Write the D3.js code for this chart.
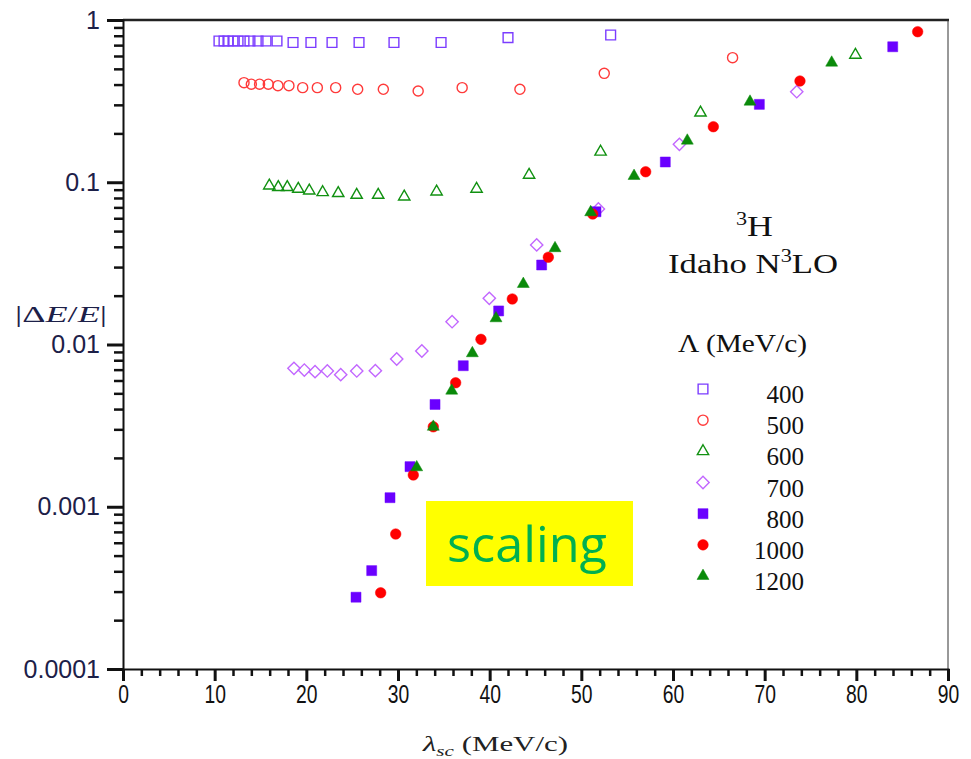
<!DOCTYPE html>
<html>
<head>
<meta charset="utf-8">
<script src="https://cdn.jsdelivr.net/npm/d3@7"></script>
<style>
  html, body { margin: 0; padding: 0; background: #fff; }
  svg { display: block; }
</style>
</head>
<body>
<svg id="chart" width="971" height="759"></svg>
<script>
// ---------------- data ----------------
const seriesNames = ["400", "500", "600", "700", "800", "1000", "1200"];

const x400 = [10.47, 11.02, 11.45, 12.0, 12.55, 13.2, 13.85, 14.73, 15.6, 16.8, 18.55, 20.5, 22.8, 25.75, 29.56, 34.7, 42.0, 53.2];
const y400 = [0.742, 0.742, 0.742, 0.742, 0.742, 0.742, 0.742, 0.742, 0.742, 0.742, 0.727, 0.727, 0.727, 0.727, 0.727, 0.727, 0.778, 0.808];

const x500 = [13.2, 14.0, 14.9, 15.85, 16.9, 18.1, 19.6, 21.2, 23.2, 25.6, 28.4, 32.2, 37.0, 43.3, 52.5, 66.5];
const y500 = [0.411, 0.402, 0.402, 0.402, 0.394, 0.394, 0.383, 0.383, 0.383, 0.374, 0.374, 0.365, 0.383, 0.374, 0.469, 0.586];

const x600 = [15.96, 16.94, 17.92, 19.12, 20.32, 21.78, 23.48, 25.49, 27.84, 30.68, 34.21, 38.57, 44.3, 52.1, 63.0, 79.9];
const y600 = [0.0952, 0.0931, 0.0931, 0.0909, 0.0887, 0.0867, 0.0855, 0.0834, 0.0834, 0.0815, 0.0874, 0.0909, 0.111, 0.154, 0.268, 0.609];

const x700 = [18.65, 19.78, 20.95, 22.29, 23.75, 25.5, 27.53, 29.86, 32.6, 35.9, 39.96, 45.13, 51.86, 60.7, 73.5];
const y700 = [0.00713, 0.00696, 0.0068, 0.00687, 0.00652, 0.00687, 0.0069, 0.00814, 0.00912, 0.01382, 0.01926, 0.0411, 0.0684, 0.1713, 0.3614];

const x800 = [25.42, 27.13, 29.13, 31.31, 34.04, 37.12, 40.98, 45.67, 51.6, 59.16, 69.42, 83.97];
const y800 = [0.000277, 0.000404, 0.001137, 0.001767, 0.00427, 0.0074, 0.0161, 0.0309, 0.0658, 0.1333, 0.302, 0.684];

const x1000 = [28.11, 29.75, 31.67, 33.85, 36.29, 39.05, 42.47, 46.4, 51.24, 57.02, 64.4, 73.85, 86.69];
const y1000 = [0.000295, 0.000679, 0.00157, 0.00311, 0.00581, 0.01076, 0.01908, 0.0345, 0.0637, 0.1161, 0.22, 0.4207, 0.847];

const x1200 = [32.04, 33.85, 35.86, 38.11, 40.69, 43.67, 47.13, 51.02, 55.75, 61.56, 68.4, 77.31];
const y1200 = [0.00175, 0.00311, 0.00519, 0.00883, 0.0145, 0.0236, 0.0392, 0.0653, 0.1093, 0.1804, 0.3136, 0.5455];

const xMajorTicks = [0, 10, 20, 30, 40, 50, 60, 70, 80, 90];
const yMajorTicks = [0.0001, 0.001, 0.01, 0.1, 1];
const yTickLabels = ["0.0001", "0.001", "0.01", "0.1", "1"];

// ---------------- styles ----------------
const styles = {
  "400":  { shape: "square",   filled: false, color: "#7b3cff" },
  "500":  { shape: "circle",   filled: false, color: "#ff3a3a" },
  "600":  { shape: "triangle", filled: false, color: "#119111" },
  "700":  { shape: "diamond",  filled: false, color: "#c267ff" },
  "800":  { shape: "square",   filled: true,  color: "#6a00ff" },
  "1000": { shape: "circle",   filled: true,  color: "#ff0000" },
  "1200": { shape: "triangle", filled: true,  color: "#0a8a0a" }
};
const seriesData = {
  "400": [x400, y400], "500": [x500, y500], "600": [x600, y600], "700": [x700, y700],
  "800": [x800, y800], "1000": [x1000, y1000], "1200": [x1200, y1200]
};

// ---------------- layout ----------------
const svg = d3.select("#chart");
const mLeft = 123, mRight = 948, mTop = 20, mBottom = 669;

const x = d3.scaleLinear().domain([0, 90]).range([mLeft, mRight]);
const y = d3.scaleLog().domain([1e-4, 1]).range([mBottom, mTop]);

function symbolPath(shape, filled) {
  const sizes = { square: filled ? 100 : 95, circle: filled ? 88 : 80, triangle: filled ? 62 : 56, diamond: 76 };
  const types = { square: d3.symbolSquare, circle: d3.symbolCircle, triangle: d3.symbolTriangle, diamond: d3.symbolSquare };
  return d3.symbol().type(types[shape]).size(sizes[shape])();
}

// frame
svg.append("line").attr("x1", mLeft).attr("x2", mRight + 1).attr("y1", mTop).attr("y2", mTop)
  .attr("stroke", "#222").attr("stroke-width", 2.5);
svg.append("line").attr("x1", mRight).attr("x2", mRight).attr("y1", mTop).attr("y2", mBottom)
  .attr("stroke", "#333").attr("stroke-width", 1);

// y axis minor ticks
const yMinor = [];
for (let e = -4; e < 0; e++) for (let m = 2; m <= 9; m++) yMinor.push(m * Math.pow(10, e));
const gyMinor = svg.append("g").attr("transform", `translate(${mLeft},0)`)
  .call(d3.axisLeft(y).tickValues(yMinor).tickSize(9).tickFormat(""));
gyMinor.select(".domain").remove();
gyMinor.selectAll("line").attr("stroke", "#111").attr("stroke-width", 2.5);

const gy = svg.append("g").attr("transform", `translate(${mLeft},0)`)
  .call(d3.axisLeft(y).tickValues(yMajorTicks).tickSize(16).tickPadding(7)
    .tickFormat((d, i) => yTickLabels[i]));
gy.select(".domain").attr("stroke", "#111").attr("stroke-width", 2);
gy.selectAll("line").attr("stroke", "#111").attr("stroke-width", 3);
gy.selectAll("text").attr("font-family", "'Liberation Sans', Arial, sans-serif")
  .attr("font-size", 25).attr("fill", "#1c2048");

// x axis
const xMinor = d3.range(0, 91, 2).filter(v => v % 10 !== 0);
const gxMinor = svg.append("g").attr("transform", `translate(0,${mBottom})`)
  .call(d3.axisBottom(x).tickValues(xMinor).tickSize(7).tickFormat(""));
gxMinor.select(".domain").remove();
gxMinor.selectAll("line").attr("stroke", "#111").attr("stroke-width", 2.5);

const gx = svg.append("g").attr("transform", `translate(0,${mBottom})`)
  .call(d3.axisBottom(x).tickValues(xMajorTicks).tickSize(12).tickPadding(1).tickFormat(d3.format("d")));
gx.select(".domain").attr("stroke", "#111").attr("stroke-width", 2);
gx.selectAll("line").attr("stroke", "#111").attr("stroke-width", 3);
gx.selectAll("text").attr("font-family", "'Liberation Sans Narrow', 'Liberation Sans', Arial, sans-serif")
  .attr("font-size", 23).attr("fill", "#111")
  .attr("transform", "scale(0.84,1.16)");

// data points
seriesNames.forEach(name => {
  const st = styles[name];
  const [xs, ys] = seriesData[name];
  const g = svg.append("g");
  g.selectAll("path").data(xs.map((v, i) => [v, ys[i]])).enter().append("path")
    .attr("d", symbolPath(st.shape, st.filled))
    .attr("transform", d => `translate(${x(d[0])},${y(d[1])})` + (st.shape === "diamond" ? " rotate(45)" : ""))
    .attr("fill", st.filled ? st.color : "none")
    .attr("stroke", st.color)
    .attr("stroke-width", st.filled ? 0.5 : 1.4);
});

// ---------------- texts ----------------
const serif = "'Liberation Serif', 'DejaVu Serif', serif";

// y axis title |ΔE/E|
const yt = svg.append("text").attr("x", 15).attr("y", 322).attr("font-family", serif)
  .attr("font-size", 24).attr("fill", "#1c2048")
  .attr("textLength", 92).attr("lengthAdjust", "spacingAndGlyphs");
yt.append("tspan").text("|\u0394");
yt.append("tspan").attr("font-style", "italic").text("E");
yt.append("tspan").text("/");
yt.append("tspan").attr("font-style", "italic").text("E");
yt.append("tspan").text("|");

// x axis title
const xt = svg.append("text").attr("x", 423).attr("y", 751).attr("font-family", serif)
  .attr("font-size", 22).attr("fill", "#222")
  .attr("textLength", 145).attr("lengthAdjust", "spacingAndGlyphs");
xt.append("tspan").attr("font-style", "italic").text("\u03BB");
xt.append("tspan").attr("font-style", "italic").attr("font-size", 15).attr("dy", 5).text("sc");
xt.append("tspan").attr("dy", -5).text(" (MeV/c)");

// legend headings
const h1 = svg.append("text").attr("x", 736).attr("y", 236).attr("font-family", serif)
  .attr("font-size", 29).attr("fill", "#111")
  .attr("textLength", 37).attr("lengthAdjust", "spacingAndGlyphs");
h1.append("tspan").attr("font-size", 18).attr("dy", -11).text("3");
h1.append("tspan").attr("dy", 11).text("H");

const h2 = svg.append("text").attr("x", 668).attr("y", 273).attr("font-family", serif)
  .attr("font-size", 28).attr("fill", "#111")
  .attr("textLength", 170).attr("lengthAdjust", "spacingAndGlyphs");
h2.append("tspan").text("Idaho N");
h2.append("tspan").attr("font-size", 18).attr("dy", -11).text("3");
h2.append("tspan").attr("dy", 11).text("LO");

svg.append("text").attr("x", 678).attr("y", 352).attr("font-family", serif)
  .attr("font-size", 25).attr("fill", "#111")
  .attr("textLength", 129).attr("lengthAdjust", "spacingAndGlyphs")
  .text("\u039B (MeV/c)");

// legend entries
const legY = d3.scaleLinear().domain([0, seriesNames.length - 1]).range([403, 590]);
seriesNames.forEach((name, i) => {
  const st = styles[name];
  svg.append("path").attr("d", symbolPath(st.shape, st.filled))
    .attr("transform", `translate(703,${legY(i) - 14})` + (st.shape === "diamond" ? " rotate(45)" : ""))
    .attr("fill", st.filled ? st.color : "none")
    .attr("stroke", st.color).attr("stroke-width", st.filled ? 0.5 : 1.4);
  svg.append("text").attr("x", 804).attr("y", legY(i)).attr("text-anchor", "end")
    .attr("font-family", serif).attr("font-size", 25).attr("fill", "#111")
    .text(name);
});

// scaling box
svg.append("rect").attr("x", 426).attr("y", 501).attr("width", 207).attr("height", 85).attr("fill", "#ffff00");
svg.append("text").attr("x", 447).attr("y", 562).attr("font-family", "'Comic Sans MS', 'Open Sans', 'Noto Sans', sans-serif")
  .attr("font-size", 50).attr("fill", "#00b050")
  .attr("textLength", 160).attr("lengthAdjust", "spacingAndGlyphs")
  .text("scaling");
</script>
</body>
</html>
